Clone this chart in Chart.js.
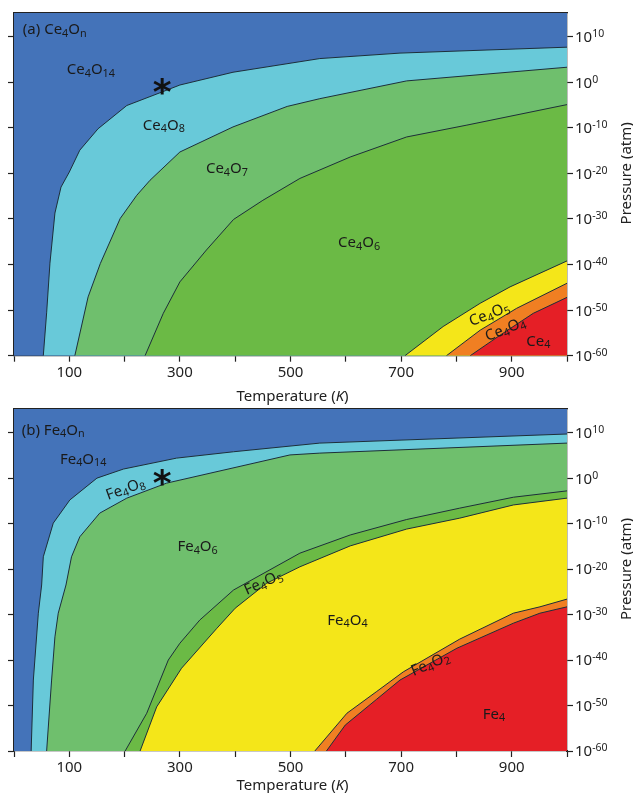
<!DOCTYPE html>
<html>
<head>
<meta charset="utf-8">
<script src="https://cdn.jsdelivr.net/npm/chart.js@4.4.1/dist/chart.umd.min.js"></script>
<style>
  html, body { margin: 0; padding: 0; background: #fff; }
  #wrap { position: relative; width: 633px; height: 793px; overflow: hidden; }
  canvas { position: absolute; left: 0; }
  #chartA { top: 0; }
  #chartB { top: 400px; }
</style>
</head>
<body>
<div id="wrap">
  <canvas id="chartA" width="633" height="410"></canvas>
  <canvas id="chartB" width="633" height="393"></canvas>
</div>
<script>
// x = temperature (K), y = log10 of pressure (atm)
const tempTicks = [0, 100, 200, 300, 400, 500, 600, 700, 800, 900, 1000];
const tempLabels = [100, 300, 500, 700, 900];
const pressureTicks = [-60, -50, -40, -30, -20, -10, 0, 10];

// (a) Ce4On phase boundaries, [T, log10 P], upper region -> lower region
const ceO14_O8 = [[53,-60],[59,-50.6],[65,-39.7],[74,-28.7],[85,-23],[100,-19.7],[119,-14.9],[152,-10.2],[204,-5.1],[264,-2.3],[300,-0.6],[396,2.2],[553,5.2],[698,6.4],[1000,7.7]];
const ceO8_O7 = [[110,-60],[134,-47.1],[156,-39.8],[192,-29.9],[222,-24.8],[246,-21.5],[300,-15.3],[396,-9.8],[494,-5.3],[553,-3.6],[710,0.3],[1000,3.3]];
const ceO7_O6 = [[237,-60],[270,-50.7],[300,-43.8],[348,-36.8],[397,-30.1],[450,-25.9],[517,-21.1],[608,-16.4],[710,-12],[819,-9.4],[1000,-4.9]];
const ceO6_O5 = [[707,-60],[776,-53.6],[843,-48.5],[897,-44.9],[1000,-39.2]];
const ceO5_O4 = [[782,-60],[843,-54.4],[909,-49.6],[1000,-44.1]];
const ceO4_Ce = [[825,-60],[879,-55.5],[939,-50.7],[1000,-47.2]];

// (b) Fe4On phase boundaries
const feO14_O8 = [[31,-60],[35,-44.4],[44,-29.7],[50,-23.5],[53,-17.3],[71,-9.9],[101,-4.8],[150,0],[198,2],[294,4.4],[397,5.8],[553,7.7],[1000,9.7]];
const feO8_O6 = [[59,-60],[68,-44.4],[74,-34.9],[80,-29.7],[94,-23.5],[104,-17.3],[119,-12.9],[155,-7.7],[204,-4.4],[276,-1.1],[499,5.1],[553,5.5],[1000,7.7]];
const feO6_O5 = [[201,-60],[240,-51.7],[279,-40],[300,-36.3],[336,-31.2],[397,-24.6],[517,-16.5],[608,-12.5],[710,-9.1],[806,-6.6],[903,-4.2],[1000,-2.8]];
const feO5_O4 = [[228,-60],[258,-50.3],[303,-41.8],[367,-33],[400,-28.6],[457,-23.1],[517,-19.5],[608,-14.9],[710,-11.2],[806,-8.8],[903,-5.9],[1000,-4.4]];
const feO4_O2 = [[544,-60],[602,-51.7],[656,-46.9],[704,-42.6],[806,-35.4],[903,-29.7],[951,-28.3],[1000,-26.6]];
const feO2_Fe = [[565,-60],[599,-54.3],[656,-48.6],[698,-44.4],[801,-37.4],[903,-31.9],[951,-29.7],[1000,-28.3]];

// marked point (room temperature, 1 atm)
const starA = [268, -0.9];
const starB = [268, 0.2];

const blue = '#4473B9', cyan = '#68C9D9', lightGreen = '#6FBF6D', green = '#6BBA45',
      yellow = '#F4E619', orange = '#F07F22', red = '#E51F26';
const lineColor = '#1d2e3a';
const axisColor = '#222';
const family = '"Noto Sans", "Open Sans", sans-serif';

// rich text: _{sub}, ^{sup}, ~{italic}
function parseRich(s) {
  const out = [];
  const re = /([_^~])\{([^}]*)\}|([^_^~]+)/g;
  let m;
  while ((m = re.exec(s))) {
    if (m[3]) out.push({ t: m[3], k: 'n' });
    else out.push({ t: m[2], k: m[1] === '_' ? 'sub' : m[1] === '^' ? 'sup' : 'i' });
  }
  return out;
}

function drawRich(ctx, s, x, y, o) {
  o = o || {};
  const size = o.size || 15;
  const small = size * (o.smallScale || 0.72);
  const segs = parseRich(s);
  const fontOf = sg => (sg.k === 'i' ? 'italic ' : '') + (o.bold ? 'bold ' : '') +
    (sg.k === 'sub' || sg.k === 'sup' ? small : size) + 'px ' + family;
  let w = 0;
  segs.forEach(sg => { ctx.font = fontOf(sg); sg.w = ctx.measureText(sg.t).width; w += sg.w; });
  ctx.save();
  ctx.translate(x, y);
  if (o.rot) ctx.rotate(o.rot * Math.PI / 180);
  ctx.fillStyle = o.color || '#1a1a1a';
  ctx.textBaseline = 'alphabetic';
  ctx.textAlign = 'left';
  let cx = o.align === 'left' ? 0 : -w / 2;
  const base = size * 0.36;
  segs.forEach(sg => {
    ctx.font = fontOf(sg);
    let dy = 0;
    if (sg.k === 'sub') dy = size * (o.subDy != null ? o.subDy : 0.18);
    if (sg.k === 'sup') dy = size * (o.supDy != null ? o.supDy : -0.33);
    ctx.fillText(sg.t, cx, base + dy);
    cx += sg.w;
  });
  ctx.restore();
}

function drawStar(ctx, x, y) {
  ctx.save();
  ctx.font = 'bold 36px "DejaVu Sans", sans-serif';
  ctx.fillStyle = '#111';
  ctx.textBaseline = 'alphabetic';
  ctx.textAlign = 'left';
  const m = ctx.measureText('*');
  const gx = x - (m.actualBoundingBoxRight - m.actualBoundingBoxLeft) / 2 + m.actualBoundingBoxLeft;
  const gy = y + (m.actualBoundingBoxAscent - m.actualBoundingBoxDescent) / 2;
  ctx.fillText('*', gx, gy);
  ctx.restore();
}

function makePanel(canvasId, cfg) {
  const canvas = document.getElementById(canvasId);
  const H = canvas.height;

  // lowest boundary first so it is painted last (on top)
  const datasets = cfg.bounds.slice().reverse().map(b => ({
    data: b[0].map(p => ({ x: p[0], y: p[1] })),
    borderColor: lineColor,
    borderWidth: 1,
    pointRadius: 0,
    tension: 0,
    fill: 'start',
    backgroundColor: b[1]
  }));

  const decor = {
    id: 'decor',
    beforeDatasetsDraw(chart) {
      const a = chart.chartArea;
      chart.ctx.save();
      chart.ctx.fillStyle = blue;
      chart.ctx.fillRect(a.left, a.top, a.right - a.left, a.bottom - a.top);
      chart.ctx.restore();
    },
    afterDraw(chart) {
      const { ctx, chartArea: a, scales } = chart;
      pressureTicks.forEach(v => {
        drawRich(ctx, '10^{' + v + '}', a.right + 8, scales.y.getPixelForValue(v),
          { size: 15, align: 'left', color: axisColor, supDy: -0.33, smallScale: 0.7 });
      });
      drawRich(ctx, 'Temperature (~{K})', (a.left + a.right) / 2 + 2, a.bottom + cfg.titleGap,
        { size: 15, color: axisColor });
      drawRich(ctx, 'Pressure (atm)', 626, (a.top + a.bottom) / 2 - 11,
        { size: 15, color: axisColor, rot: -90 });
      cfg.labels.forEach(l => {
        drawRich(ctx, l.t, scales.x.getPixelForValue(l.x), scales.y.getPixelForValue(l.y),
          { size: 15, align: l.align, rot: l.rot });
      });
      drawStar(ctx, scales.x.getPixelForValue(cfg.star[0]), scales.y.getPixelForValue(cfg.star[1]));
    }
  };

  const yAxis = (pos, width) => ({
    type: 'linear',
    position: pos,
    min: -60,
    max: 15.2,
    z: 1,
    afterBuildTicks: s => { s.ticks = pressureTicks.map(v => ({ value: v })); },
    ticks: { display: false },
    grid: { drawOnChartArea: false, tickLength: 6, tickColor: axisColor, tickWidth: 1.2 },
    border: { color: axisColor, width: 1.3 },
    afterFit: s => { s.width = width; }
  });

  return new Chart(canvas, {
    type: 'line',
    data: { datasets },
    options: {
      responsive: false,
      animation: false,
      events: [],
      layout: { padding: 0 },
      plugins: { legend: { display: false }, tooltip: { enabled: false } },
      scales: {
        x: {
          type: 'linear',
          position: 'bottom',
          min: 0,
          max: 1000,
          z: 1,
          afterBuildTicks: s => { s.ticks = tempTicks.map(v => ({ value: v })); },
          ticks: {
            callback: v => tempLabels.includes(v) ? String(v) : '',
            font: { family: family, size: 15 },
            color: axisColor,
            padding: 2,
            maxRotation: 0,
            autoSkip: false
          },
          grid: { drawOnChartArea: false, tickLength: 6, tickColor: axisColor, tickWidth: 1.2 },
          border: { color: axisColor, width: 1.3 },
          afterFit: s => { s.height = H - cfg.bottom; }
        },
        xTop: {
          type: 'linear',
          position: 'top',
          min: 0,
          max: 1000,
          z: 1,
          ticks: { display: false },
          grid: { display: false },
          border: { color: axisColor, width: 1.3 },
          afterFit: s => { s.height = cfg.top; }
        },
        y: yAxis('left', 14),
        yRight: yAxis('right', 66)
      }
    },
    plugins: [decor]
  });
}

makePanel('chartA', {
  top: 13,
  bottom: 355.7,
  titleGap: 40,
  star: starA,
  bounds: [[ceO14_O8, cyan], [ceO8_O7, lightGreen], [ceO7_O6, green],
           [ceO6_O5, yellow], [ceO5_O4, orange], [ceO4_Ce, red]],
  labels: [
    { t: '(a) Ce_{4}O_{n}', x: 16, y: 11.8, align: 'left' },
    { t: 'Ce_{4}O_{14}', x: 139, y: 3.0 },
    { t: 'Ce_{4}O_{8}', x: 271, y: -9.2 },
    { t: 'Ce_{4}O_{7}', x: 385, y: -18.8 },
    { t: 'Ce_{4}O_{6}', x: 624, y: -35.0 },
    { t: 'Ce_{4}O_{5}', x: 859, y: -50.7, rot: -22 },
    { t: 'Ce_{4}O_{4}', x: 888, y: -54.0, rot: -22 },
    { t: 'Ce_{4}', x: 948, y: -56.6 }
  ]
});

makePanel('chartB', {
  top: 9,
  bottom: 351,
  titleGap: 34,
  star: starB,
  bounds: [[feO14_O8, cyan], [feO8_O6, lightGreen], [feO6_O5, green],
           [feO5_O4, yellow], [feO4_O2, orange], [feO2_Fe, red]],
  labels: [
    { t: '(b) Fe_{4}O_{n}', x: 14, y: 10.75, align: 'left' },
    { t: 'Fe_{4}O_{14}', x: 125, y: 4.4 },
    { t: 'Fe_{4}O_{8}', x: 201, y: -2.2, rot: -20 },
    { t: 'Fe_{4}O_{6}', x: 332, y: -14.9 },
    { t: 'Fe_{4}O_{5}', x: 450, y: -22.8, rot: -24 },
    { t: 'Fe_{4}O_{4}', x: 603, y: -31.0 },
    { t: 'Fe_{4}O_{2}', x: 752, y: -40.7, rot: -23 },
    { t: 'Fe_{4}', x: 868, y: -51.7 }
  ]
});
</script>
</body>
</html>
